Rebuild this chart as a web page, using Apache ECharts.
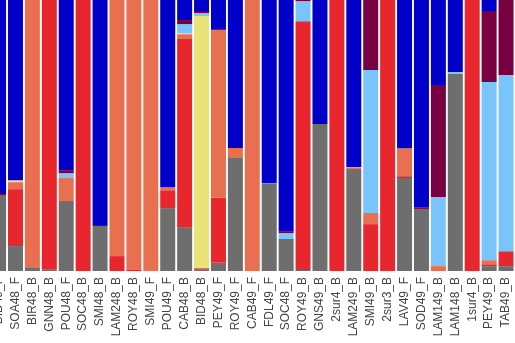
<!DOCTYPE html>
<html><head><meta charset="utf-8">
<script src="https://cdn.jsdelivr.net/npm/echarts@6/dist/echarts.min.js"></script>
<style>html,body{margin:0;padding:0;background:#fff;overflow:hidden;width:515px;height:343px;position:relative}#c{position:absolute;left:-10px;top:0;width:525px;height:343px}</style>
</head><body><div id="c"></div>
<script>
const categories = ["BID49_F","SOA48_F","BIR48_B","GNN48_B","POU48_F","SOC48_B","SMI48_B","LAM248_B","ROY48_B","SMI49_F","POU49_F","CAB48_B","BID48_B","PEY49_F","ROY49_F","CAB49_F","FDL49_F","SOC48_F","ROY49_B","GNS49_B","2sur4_B","LAM249_B","SMI49_B","2sur3_B","LAV49_F","SOD49_F","LAM149_B","LAM148_B","1sur4_B","PEY49_B","TAB49_B"];
const grayVals     = [28,9.2,1.1,0.7,25.8,0,16.6,0,0,0,23.2,16.2,0.7,3,41.7,0,32.1,11.8,0.4,54.2,0,37.6,0,0,34.3,22.9,0,72.7,0,1.8,1.8];
const redVals      = [0,21,0,99.3,0,100,0,5.5,0.4,0,6.6,69.4,0,24,0,0,0,0,91.8,0,100,0,17.3,100,0.7,0,0,0,100,0.7,5.2];
const orangeVals   = [0,2.6,98.9,0,8.5,0,0,94.5,99.6,100,1.1,1.8,0.4,62,3.7,100,0.4,0,0,0,0,0.4,4.1,0,10.3,0,1.8,0,0,1.5,0.4];
const yellowVals   = [0,0.7,0,0,0,0,0,0,0,0,0,0.4,93,0,0,0,0,0,0,0,0,0,0,0,0,0,0,0,0,0,0];
const lightBlueVals= [0,0,0,0,1.8,0,0,0,0,0,0,3.3,1.1,0,0,0,0,2.2,7.4,0,0,0.4,52.8,0,0,0,25.5,0.7,0,65.7,64.9];
const maroonVals   = [0.4,0,0,0,1.1,0,0.4,0,0,0,0,1.5,0.4,0,0,0,0,0.7,0.4,0,0,0,25.8,0,0,0.4,41.3,0,0,26.2,27.7];
const blueVals     = [71.6,66.5,0,0,62.8,0,83,0,0,0,69.1,7.4,4.4,11,54.6,0,67.5,85.3,0,45.8,0,61.6,0,0,54.7,76.7,31.4,26.6,0,4.1,0];

const seriesDefs = [
  ["gray", grayVals, "#6e6e6e"],
  ["red", redVals, "#e8262e"],
  ["orange", orangeVals, "#e87050"],
  ["yellow", yellowVals, "#e8e478"],
  ["lightblue", lightBlueVals, "#7ac4fc"],
  ["maroon", maroonVals, "#780040"],
  ["blue", blueVals, "#0000c8"]
];

const chart = echarts.init(document.getElementById('c'), null, {renderer:'canvas'});
chart.setOption({
  animation: false,
  grid: {left: 0.1, right: 0.5, top: 0, bottom: 72, containLabel: false},
  xAxis: {
    type: 'category', data: categories,
    axisLine: {show: false}, axisTick: {show: false},
    axisLabel: {rotate: 90, interval: 0, fontSize: 12, color: '#444', margin: 6, fontFamily: 'Liberation Sans, Arial, sans-serif'}
  },
  yAxis: {type: 'value', min: 0, max: 100, show: false, splitLine: {show: false}},
  series: seriesDefs.map(([name, vals, color]) => ({
    name, type: 'bar', stack: 'all', data: vals, barWidth: 15,
    itemStyle: {color}
  }))
});
</script></body></html>
